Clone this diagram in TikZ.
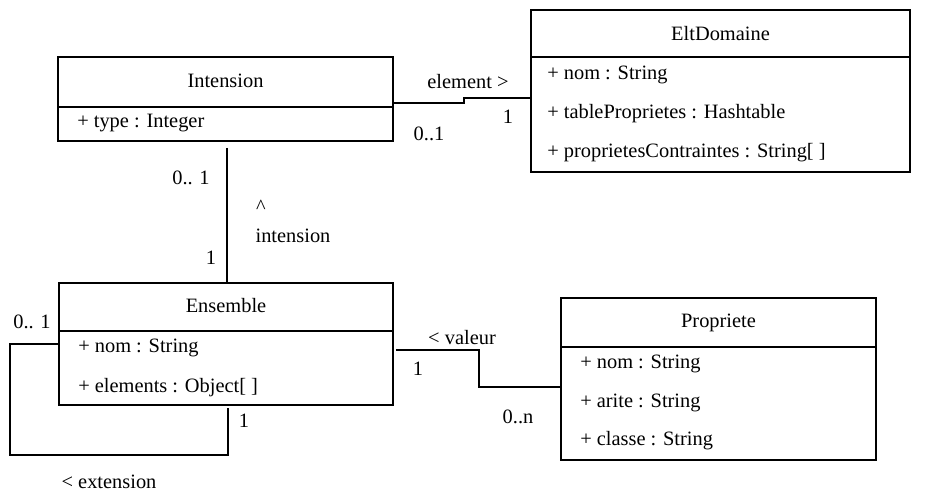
\documentclass[tikz,border=0pt]{standalone}
\usepackage{fontspec}
\setmainfont{Liberation Serif}
\usetikzlibrary{fit,calc}
\begin{document}
\begin{tikzpicture}[x=0.75pt,y=-0.75pt]
  \tikzset{cls/.style={draw, line width=1.3pt, inner sep=0pt},
    attr/.style={anchor=west, inner sep=0pt, text height=10.7pt, text depth=3pt, font=\fontsize{15.3}{18}\selectfont},
    lbl/.style={inner sep=0pt, text height=10.7pt, text depth=3pt, font=\fontsize{15.3}{18}\selectfont},
    assoc/.style={line width=1.3pt}}
  \useasboundingbox (0,0) rectangle (943,492);
  % classes
  \node[cls, fit={(58,57) (393,107)}] (intT) {};
  \node[cls, fit={(58,107) (393,141)}] (intB) {};
  \node[lbl] (intN) at (intT.center) {Intension};
  \node[attr] (intA) at (77,122) {+ type : Integer};
  \node[cls, fit={(531,10) (910,57)}] (eltT) {};
  \node[cls, fit={(531,57) (910,172)}] (eltB) {};
  \node[lbl] (eltN) at ($(eltT.center)+(0,2)$) {EltDomaine};
  \node[attr] (eltA) at (547,74) {+ nom : String};
  \node[attr] (eltC) at (547,113) {+ tableProprietes : Hashtable};
  \node[attr] (eltD) at (547,152) {+ proprietesContraintes : String[ ]};
  \node[cls, fit={(59,283) (393,331)}] (ensT) {};
  \node[cls, fit={(59,331) (393,405)}] (ensB) {};
  \node[lbl] (ensN) at (ensT.center) {Ensemble};
  \node[attr] (ensA) at (78,347) {+ nom : String};
  \node[attr] (ensC) at (78,387) {+ elements : Object[ ]};
  \node[cls, fit={(561,298) (876,347)}] (propT) {};
  \node[cls, fit={(561,347) (876,460)}] (propB) {};
  \node[lbl] (propN) at (propT.center) {Propriete};
  \node[attr] (propA) at (580,363) {+ nom : String};
  \node[attr] (propC) at (580,402) {+ arite : String};
  \node[attr] (propD) at (580,440) {+ classe : String};
  % associations
  \draw[assoc] ($(intB.north east)+(0,-3)$) -- ++(70,0) -- ++(0,-5) coordinate (k1) -- (k1 -| eltB.west);
  \draw[assoc] ($(intB.south)+(1.5,6)$) coordinate (k2) -- (k2 |- ensT.north);
  \draw[assoc] ($(ensB.north west)+(0,14)$) -- ++(-48,0) |- ($(ensB.south)+(2,49)$) -- ($(ensB.south)+(2,2)$);
  \draw[assoc] ($(ensB.north east)+(2,20)$) -- ++(83,0) -- ++(0,37) coordinate (k4) -- (k4 -| propB.west);
  % labels
  \node[lbl] (nElt) at (468,83) {element >};
  \node[lbl] (mElt) at (508,118) {1};
  \node[lbl] (mInt) at (429,135) {0..1};
  \node[lbl] (mIntUp) at (191,179) {0.. 1};
  \node[lbl] (nArr) at (261,208) {\textasciicircum};
  \node[lbl] (nInt) at (293,237) {intension};
  \node[lbl] (mEnsUp) at (211,259) {1};
  \node[lbl] (mLoopA) at (32,323) {0.. 1};
  \node[lbl] (mLoopB) at (244,422) {1};
  \node[lbl] (nExt) at (109,483) {< extension};
  \node[lbl] (nVal) at (462,339) {< valeur};
  \node[lbl] (mEnsV) at (418,370) {1};
  \node[lbl] (mProp) at (518,418) {0..n};
\end{tikzpicture}
\end{document}
